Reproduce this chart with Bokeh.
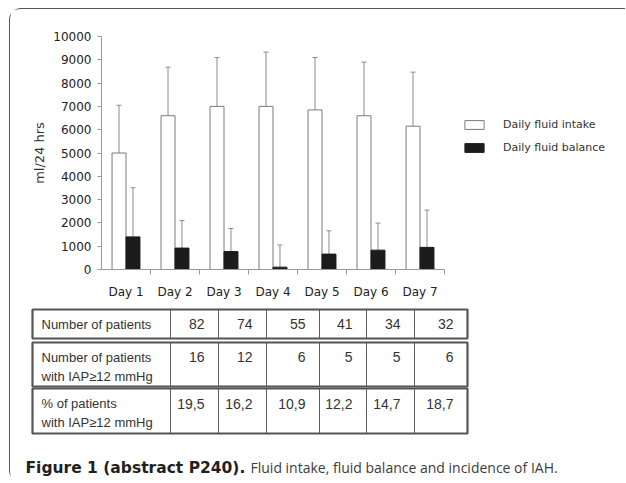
import numpy as np
from bokeh.plotting import figure
from bokeh.layouts import column
from bokeh.models import (ColumnDataSource, Whisker, TeeHead, FixedTicker, SingleIntervalTicker,
                          Legend, LegendItem, Range1d)
from bokeh.core.properties import value
from bokeh.embed import file_html
from bokeh.resources import INLINE

# ---------------- data ----------------
days = ["Day 1", "Day 2", "Day 3", "Day 4", "Day 5", "Day 6", "Day 7"]
intake = [5000, 6600, 7000, 7000, 6850, 6600, 6150]
intake_sd = [2050, 2080, 2100, 2330, 2250, 2300, 2320]
balance = [1400, 920, 770, 100, 660, 830, 950]
balance_sd = [2110, 1180, 990, 950, 1000, 1160, 1600]
series_names = ["Daily fluid intake", "Daily fluid balance"]

n_patients = ["82", "74", "55", "41", "34", "32"]
n_iah = ["16", "12", "6", "5", "5", "6"]
pct_iah = ["19,5", "16,2", "10,9", "12,2", "14,7", "18,7"]
row_labels = [["Number of patients"],
              ["Number of patients", "with IAP\u226512 mmHg"],
              ["% of patients", "with IAP\u226512 mmHg"]]
caption_bold = "Figure 1 (abstract P240)."
caption_text = "Fluid intake, fluid balance and incidence of IAH."

# ---------------- layout (page pixels) ----------------
OX, OY = 10, 9            # origin of the figures inside the framed column
W = 615
H1, H2 = 296, 177
AX_L, AX_R_DATA, AX_TOP, AX_BOT = 101, 444, 36, 269   # chart axes extent on page
CHART_FONT = "DejaVu Sans"
TABLE_FONT = "Liberation Sans"
CAP_FONT = "Open Sans"

ML = AX_L - OX
MT = AX_TOP - OY
MB = H1 - (AX_BOT - OY)
frame_right = OX + W
x_end = 0.5 + len(days) * (frame_right - AX_L) / (AX_R_DATA - AX_L)

p = figure(width=W, height=H1, x_range=Range1d(0.5, x_end), y_range=Range1d(0, 10000),
           output_backend="svg", toolbar_location=None,
           min_border_left=ML, min_border_right=0, min_border_top=MT, min_border_bottom=MB,
           outline_line_color=None, background_fill_color="white", border_fill_color="white")
p.xgrid.visible = False
p.ygrid.visible = False

xi = np.arange(1, len(days) + 1)
bw = 0.285
src = ColumnDataSource(dict(
    xa=xi - bw / 2, xb=xi + bw / 2,
    intake=intake, intake_up=np.array(intake) + np.array(intake_sd),
    balance=balance, balance_up=np.array(balance) + np.array(balance_sd),
))

ERR = "#8c8c8c"
for base, lo, up in [("xa", "intake", "intake_up"), ("xb", "balance", "balance_up")]:
    w = Whisker(source=src, base=base, lower=lo, upper=up, dimension="height",
                line_color=ERR, line_width=1,
                upper_head=TeeHead(size=5, line_color=ERR, line_width=1),
                lower_head=None)
    p.add_layout(w)

r1 = p.vbar(x="xa", top="intake", width=bw, source=src, fill_color="white",
            line_color="#7a7a7a", line_width=1)
r2 = p.vbar(x="xb", top="balance", width=bw, source=src, fill_color="#1c1c1c",
            line_color="#1c1c1c", line_width=1)

# axes
ya = p.yaxis[0]
ya.ticker = SingleIntervalTicker(interval=1000, num_minor_ticks=0)
ya.axis_label = "ml/24 hrs"
ya.axis_label_text_font = CHART_FONT
ya.axis_label_text_font_size = "13px"
ya.axis_label_text_font_style = "normal"
ya.axis_label_text_color = "#333333"
ya.axis_label_standoff = 3
ya.major_label_text_font = CHART_FONT
ya.major_label_text_font_size = "12px"
ya.major_label_text_color = "#222222"
ya.major_label_standoff = 6
ya.major_tick_out = 4
ya.major_tick_in = 0
ya.minor_tick_out = 0
ya.axis_line_color = "#999999"
ya.major_tick_line_color = "#999999"

xa = p.xaxis[0]
xa.bounds = (0.5, 0.5 + len(days))
xa.ticker = FixedTicker(ticks=list(xi), minor_ticks=list(xi + 0.5))
xa.major_label_overrides = {int(i): d for i, d in zip(xi, days)}
xa.major_label_text_font = CHART_FONT
xa.major_label_text_font_size = "12px"
xa.major_label_text_color = "#222222"
xa.major_tick_out = 0
xa.major_tick_in = 0
xa.major_tick_line_color = None
xa.major_label_standoff = 10
xa.minor_tick_out = 5
xa.minor_tick_in = 0
xa.minor_tick_line_color = "#999999"
xa.axis_line_color = "#999999"

# legend (inside the widened frame, right of the bars)
legend = Legend(items=[LegendItem(label=series_names[0], renderers=[r1]),
                       LegendItem(label=series_names[1], renderers=[r2])],
                location=(462 - AX_L, AX_BOT - 153.5), orientation="vertical",
                glyph_width=24, glyph_height=11, label_standoff=17, spacing=10,
                padding=0, margin=0, border_line_color=None, background_fill_alpha=0,
                label_text_font=CHART_FONT, label_text_font_size="11px",
                label_text_color="#333333", label_height=11)
p.add_layout(legend)

# ---------------- table + caption figure (page-pixel coordinates) ----------------
top2 = OY + H1
q = figure(width=W, height=H2, x_range=Range1d(OX, OX + W), y_range=Range1d(top2 + H2, top2),
           output_backend="svg", toolbar_location=None, x_axis_type=None, y_axis_type=None,
           min_border=0, min_border_left=0, min_border_right=0, min_border_top=0,
           min_border_bottom=0, outline_line_color=None,
           background_fill_color="white", border_fill_color="white")
q.xgrid.visible = False
q.ygrid.visible = False

# keep each figure's own frame (no cross-figure frame alignment)
for fig in (p, q):
    if "frame_align" in fig.properties():
        fig.frame_align = False

col_edges = [32, 170, 218, 266, 319, 366, 414, 467]
row_boxes = [(309, 338), (342, 386), (388, 433)]
row_values = [n_patients, n_iah, pct_iah]
line_centers = [[323.5], [356.5, 375.5], [403, 421.5]]
LINE = "#5e5e5e"
TXT = "#333333"

cl, cr, ct, cb = [], [], [], []
ol, orr, ot, ob = [], [], [], []
lx, ly, lt = [], [], []
vx, vy, vt = [], [], []
for r, (top, bot) in enumerate(row_boxes):
    for c in range(len(col_edges) - 1):
        cl.append(col_edges[c]); cr.append(col_edges[c + 1]); ct.append(top); cb.append(bot)
    ol.append(col_edges[0]); orr.append(col_edges[-1]); ot.append(top); ob.append(bot)
    for k, txt in enumerate(row_labels[r]):
        lx.append(41); ly.append(line_centers[r][k]); lt.append(txt)
    for c, val in enumerate(row_values[r]):
        vx.append(col_edges[c + 2] - 14); vy.append(line_centers[r][0]); vt.append(val)

q.quad(left=cl, right=cr, top=ct, bottom=cb, fill_color=None, line_color=LINE, line_width=1)
q.quad(left=ol, right=orr, top=ot, bottom=ob, fill_color=None, line_color="#555555",
       line_width=2.2)
q.text(x=lx, y=ly, text=lt, text_font=value(TABLE_FONT), text_font_size=value("13px"),
       text_color=TXT, text_align="left", text_baseline="middle")
q.text(x=vx, y=vy, text=vt, text_font=value(TABLE_FONT), text_font_size=value("14px"),
       text_color=TXT, text_align="right", text_baseline="middle")

# caption
q.text(x=[25], y=[467], text=[caption_bold], text_font=value("DejaVu Sans"),
       text_font_size=value("15.5px"), text_font_style="bold", text_color="#231f20",
       text_align="left", text_baseline="alphabetic")
q.text(x=[250], y=[467], text=[caption_text], text_font=value(CAP_FONT),
       text_font_size=value("14px"), text_color="#3c3c3c",
       text_align="left", text_baseline="alphabetic")

layout = column(p, q, spacing=0, margin=(8, 0, 0, 9),
                styles={"border-left": "1px solid #555555", "border-top": "1px solid #555555",
                        "border-top-left-radius": "12px", "border-bottom-left-radius": "12px"})

open("out.html", "w").write(file_html(layout, INLINE))
